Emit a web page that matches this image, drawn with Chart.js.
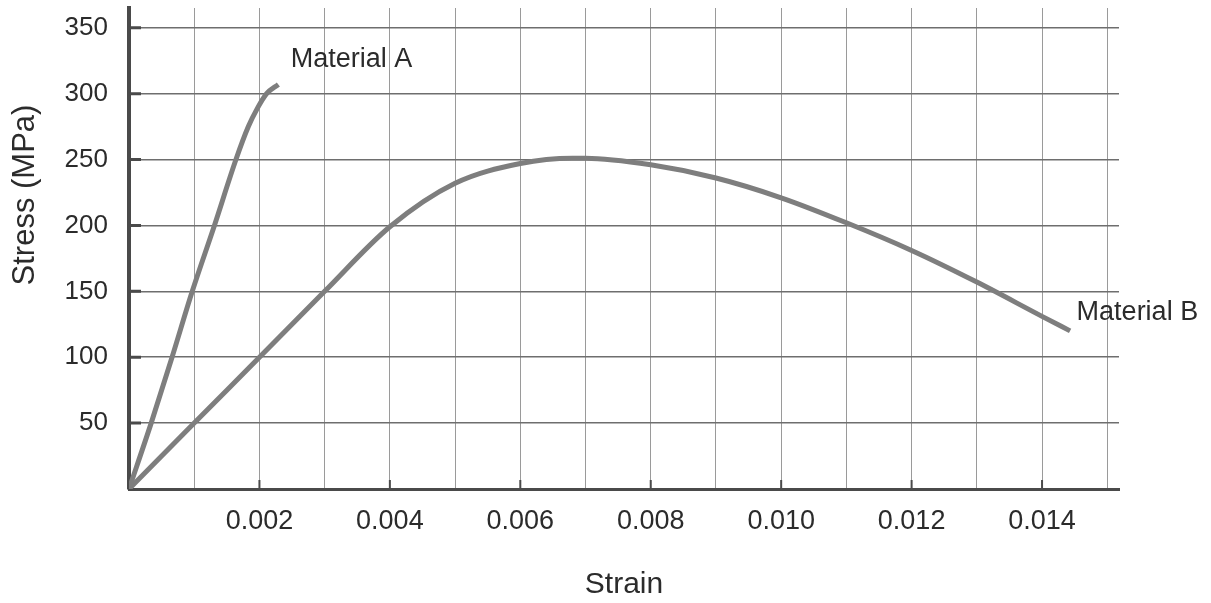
<!DOCTYPE html>
<html>
<head>
<meta charset="utf-8">
<title>Stress vs Strain</title>
<script src="https://cdn.jsdelivr.net/npm/chart.js@4/dist/chart.umd.min.js"></script>
<style>
  html, body { margin: 0; padding: 0; background: #fff; }
  #wrap { width: 1211px; height: 603px; }
</style>
</head>
<body>
<div id="wrap"><canvas id="chart"></canvas></div>
<script>
// Values
const strainA = [0, 0.00034, 0.00066, 0.00097, 0.00131, 0.00164, 0.00183, 0.00197, 0.00211, 0.00229];
const stressA = [0, 50, 100, 150, 200, 250, 275, 289, 300, 307];

const strainB = [0, 0.001, 0.002, 0.003, 0.004, 0.005, 0.006, 0.0068, 0.007, 0.008, 0.009, 0.010, 0.011, 0.012, 0.013, 0.014, 0.01443];
const stressB = [0, 50, 100, 150, 199, 232, 247, 251, 251, 246, 236, 221, 202, 181, 157, 131, 120];

const xTicks = [0.002, 0.004, 0.006, 0.008, 0.010, 0.012, 0.014];
const yTicks = [50, 100, 150, 200, 250, 300, 350];

const xTitle = 'Strain';
const yTitle = 'Stress (MPa)';
const seriesNames = ['Material A', 'Material B'];
// where the series names sit (strain, stress)
const labelAt = [[0.00248, 326], [0.01453, 134]];

const FONT = "'Liberation Sans', Arial, Helvetica, sans-serif";
const TEXT = '#2b2b2b';

function toPoints(xs, ys) {
    return xs.map((x, i) => ({ x: x, y: ys[i] }));
}

function isTick(list, v) {
    return list.some(t => Math.abs(t - v) < 1e-9);
}

// short tick marks inside the axes, the rotated y title and the series names
const notes = {
    id: 'notes',
    afterDraw(chart) {
        const ctx = chart.ctx;
        const xs = chart.scales.x, ys = chart.scales.y;
        const area = chart.chartArea;
        ctx.save();
        ctx.strokeStyle = '#4a4a4a';
        ctx.lineWidth = 3;
        ctx.beginPath();
        yTicks.forEach(v => {
            const py = ys.getPixelForValue(v);
            ctx.moveTo(area.left, py);
            ctx.lineTo(area.left + 12, py);
        });
        ctx.stroke();
        ctx.lineWidth = 2;
        ctx.beginPath();
        xTicks.forEach(v => {
            const px = xs.getPixelForValue(v);
            ctx.moveTo(px, area.bottom);
            ctx.lineTo(px, area.bottom - 9);
        });
        ctx.stroke();

        ctx.fillStyle = TEXT;
        ctx.font = '27px ' + FONT;
        ctx.textAlign = 'left';
        ctx.textBaseline = 'middle';
        seriesNames.forEach((name, i) => {
            ctx.fillText(name, xs.getPixelForValue(labelAt[i][0]), ys.getPixelForValue(labelAt[i][1]));
        });
        ctx.translate(25, 195);
        ctx.rotate(-Math.PI / 2);
        ctx.textAlign = 'center';
        ctx.font = '31px ' + FONT;
        ctx.fillText(yTitle, 0, 0);
        ctx.restore();
    }
};

new Chart(document.getElementById('chart'), {
    type: 'scatter',
    data: {
        datasets: [
            {
                label: seriesNames[0],
                data: toPoints(strainA, stressA),
                showLine: true,
                borderColor: '#7e7e7e',
                borderWidth: 5,
                pointRadius: 0,
                cubicInterpolationMode: 'monotone'
            },
            {
                label: seriesNames[1],
                data: toPoints(strainB, stressB),
                showLine: true,
                borderColor: '#7e7e7e',
                borderWidth: 5,
                pointRadius: 0,
                cubicInterpolationMode: 'monotone'
            }
        ]
    },
    options: {
        responsive: true,
        maintainAspectRatio: false,
        animation: false,
        layout: { padding: { top: 8, right: 92, bottom: 0, left: 0 } },
        plugins: {
            legend: { display: false },
            tooltip: { enabled: false }
        },
        scales: {
            x: {
                type: 'linear',
                min: 0,
                max: 0.01518,
                afterFit: scale => {
                    scale.height = 114;
                    scale.paddingLeft = 0;
                    scale.paddingRight = 0;
                },
                afterBuildTicks: scale => {
                    const t = [];
                    for (let i = 0; i <= 15; i++) t.push({ value: i / 1000 });
                    t.push({ value: 0.01518 });
                    scale.ticks = t;
                },
                border: { color: '#4a4a4a', width: 3 },
                grid: {
                    drawTicks: false,
                    color: ctx => (ctx.tick && ctx.tick.value > 0.0151) ? 'rgba(0,0,0,0)' : '#9a9a9a',
                    lineWidth: 1
                },
                ticks: {
                    padding: 16,
                    color: TEXT,
                    font: { family: FONT, size: 27 },
                    maxRotation: 0,
                    autoSkip: false,
                    callback: v => isTick(xTicks, v) ? v.toFixed(3) : ''
                },
                title: {
                    display: true,
                    text: xTitle,
                    color: TEXT,
                    font: { family: FONT, size: 30 },
                    padding: { top: 0, bottom: 0 }
                }
            },
            y: {
                type: 'linear',
                min: 0,
                max: 365,
                afterFit: scale => {
                    scale.width = 129;
                    scale.paddingTop = 0;
                    scale.paddingBottom = 0;
                },
                afterBuildTicks: scale => {
                    scale.ticks = [0].concat(yTicks).map(v => ({ value: v }));
                },
                border: { color: '#4a4a4a', width: 4 },
                grid: {
                    drawTicks: false,
                    color: '#6e6e6e',
                    lineWidth: 1.5
                },
                ticks: {
                    padding: 21,
                    color: TEXT,
                    font: { family: FONT, size: 26 },
                    callback: v => isTick(yTicks, v) ? String(v) : ''
                }
            }
        }
    },
    plugins: [notes]
});
</script>
</body>
</html>
